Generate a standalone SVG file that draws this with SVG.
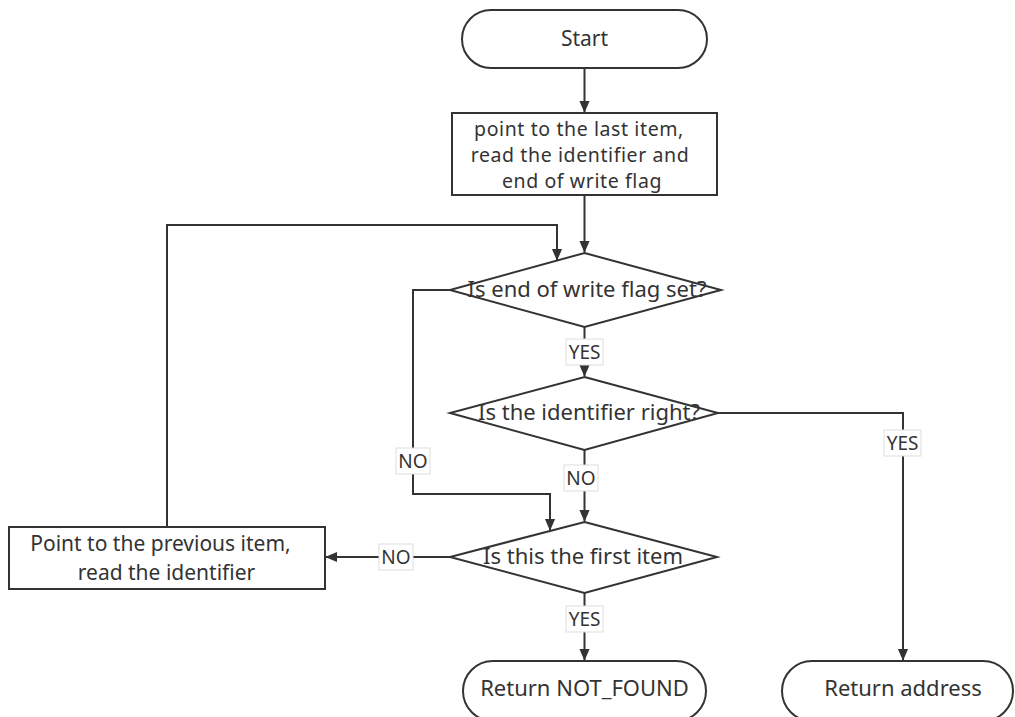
<svg xmlns="http://www.w3.org/2000/svg" width="1015" height="717" viewBox="0 0 1015 717">
<style>
.shape{fill:#fff;stroke:#333;stroke-width:2}
.t{font-family:"Noto Sans","Liberation Sans",sans-serif;font-size:22px;fill:#333;text-anchor:middle}
.s{font-size:21px}
.m{font-size:19.5px;letter-spacing:0.6px}
.l{font-size:19px}
.c{fill:none;stroke:#333;stroke-width:2}
.lb{fill:#fff;stroke:#ddd;stroke-width:1}
</style>
<defs>
<marker id="ah" markerWidth="12" markerHeight="14" refX="13" refY="6" orient="auto" markerUnits="userSpaceOnUse" viewBox="0 0 14 12">
<path d="M0,0 L14,6 L0,12 Z" fill="#333"/>
</marker>
</defs>
<rect width="1015" height="717" fill="#fff"/>
<g id="connectors">
<path class="c" d="M584.5,68 V112" marker-end="url(#ah)"/>
<path class="c" d="M584.5,195 V252" marker-end="url(#ah)"/>
<path class="c" d="M167,527 V225 H557 V260" marker-end="url(#ah)"/>
<path class="c" d="M450,290 H413 V494 H550 V530" marker-end="url(#ah)"/>
<path class="c" d="M584.5,327 V376" marker-end="url(#ah)"/>
<path class="c" d="M584.5,450 V521" marker-end="url(#ah)"/>
<path class="c" d="M718,413 H903 V660" marker-end="url(#ah)"/>
<path class="c" d="M450,557 H326" marker-end="url(#ah)"/>
<path class="c" d="M584.5,593 V660" marker-end="url(#ah)"/>
<g id="labels">
<rect class="lb" x="566" y="339" width="37" height="26"/><text class="t l" x="584.5" y="359">YES</text>
<rect class="lb" x="396" y="448" width="34" height="26"/><text class="t l" x="413" y="468">NO</text>
<rect class="lb" x="564" y="465" width="34" height="26"/><text class="t l" x="581" y="485">NO</text>
<rect class="lb" x="884" y="430" width="37" height="26"/><text class="t l" x="902.5" y="450">YES</text>
<rect class="lb" x="379" y="544" width="34" height="26"/><text class="t l" x="396" y="564">NO</text>
<rect class="lb" x="566" y="606" width="37" height="26"/><text class="t l" x="584.5" y="626">YES</text>
</g>
</g>
<g id="start">
<rect class="shape" x="462" y="10" width="245" height="58" rx="29"/>
<text class="t s" x="584.5" y="46">Start</text>
</g>
<g id="init">
<rect class="shape" x="452" y="113" width="265" height="82"/>
<text class="t m" x="579" y="135.5">point to the last item,</text>
<text class="t m" x="580" y="162">read the identifier and</text>
<text class="t m" x="582" y="188">end of write flag</text>
</g>
<g id="flag">
<polygon class="shape" points="584.5,253 721,290 584.5,327 450,290"/>
<text class="t" x="587" y="297">Is end of write flag set?</text>
</g>
<g id="ident">
<polygon class="shape" points="584.5,377 718,413 584.5,450 450,413"/>
<text class="t" x="589" y="420">Is the identifier right?</text>
</g>
<g id="first">
<polygon class="shape" points="584.5,522 717,557 584.5,593 450,557"/>
<text class="t" x="583" y="564">Is this the first item</text>
</g>
<g id="prev">
<rect class="shape" x="9" y="527" width="316" height="62"/>
<text class="t s" x="160.5" y="551">Point to the previous item,</text>
<text class="t s" x="166.5" y="580">read the identifier</text>
</g>
<g id="notfound">
<rect class="shape" x="463" y="661" width="243" height="60" rx="30"/>
<text class="t" x="584.5" y="696">Return NOT_FOUND</text>
</g>
<g id="address">
<rect class="shape" x="782" y="661" width="231" height="60" rx="30"/>
<text class="t" x="903" y="696">Return address</text>
</g>
</svg>
